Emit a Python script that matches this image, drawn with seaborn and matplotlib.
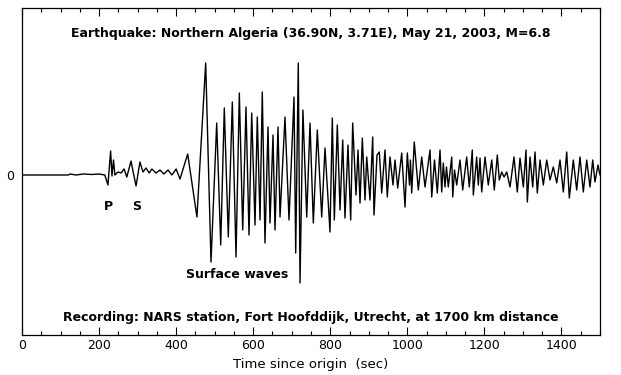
import matplotlib
matplotlib.use("Agg")
import matplotlib.pyplot as plt
import numpy as np
import pandas as pd
import seaborn as sns

# Seismogram: times (sec) and trace amplitude (arbitrary units, 0 = rest)
noise_t = [0, 120, 125, 140, 160, 180, 200, 215]
noise_amp = [0, 0, 1, 0, 1, 0.5, 1, 0]

body_t = [223, 230, 233.5, 237.5, 241, 249, 257, 265, 272, 283, 288, 296, 306, 314, 322,
          330, 337, 348, 358, 368, 379, 389, 400, 410, 430, 454]
body_amp = [-10, 24, -1, 15, 0, 3, 2, 6, -2, 14, 4, -11, 13, 3, 7,
            2, 6, 2, 5, 1, 5, 0, 6, -4, 21, -42]

surface_t = [476.7, 490.5, 505.3, 515.7, 525, 535.4, 545.8, 555.4, 564, 572.8, 581.3, 589.1,
             596.1, 604.7, 610.6, 617.7, 623.6, 630.6, 638.4, 643.6, 651.4, 656.6, 664.4,
             669.6, 682.5, 692.9, 705.9, 710.3, 717, 721.5, 729, 738.9, 747.4, 756, 766.4,
             777.8, 786.3, 799.3, 805.3, 810.5, 818.3, 825.3, 832.3, 838.2, 846, 853, 858.2,
             866.8, 872, 877.2, 883.2, 890.2, 894.6, 903.1, 910.1, 913.5, 921.3, 927.3, 933.5,
             942, 948, 955, 962.8, 968, 975, 985.4, 994, 1000, 1005.6, 1008, 1011.3, 1018,
             1028.5, 1037.3, 1045.9, 1058.9, 1063.3, 1070.5, 1077.8, 1084.8]
surface_amp = [112, -87, 52, -70, 67, -62, 73, -82, 82, -55, 68, -60,
               62, -50, 58, -45, 83, -68, 48, -48, 40, -55, 48,
               -42, 58, -45, 78, -78, 112, -108, 65, -42, 52, -48, 45,
               -42, 27, -57, 57, -45, 50, -35, 35, -43, 30, -45, 52,
               -20, 25, -28, 37, -25, 18, -25, 38, -40, 20, 23, -18,
               25, -22, 18, -10, 15, -13, 22, -32, 22, -10, 15, -18, 33,
               -15, 18, -12, 25, -22, 15, -18, 25]

coda_t = [1089.2, 1093.4, 1097.8, 1101.6, 1106.3, 1115.2, 1117.8, 1122.4, 1128.1, 1136.7,
          1143.7, 1154, 1160.8, 1168.6, 1171.2, 1180, 1184.2, 1188.6, 1193, 1201.6, 1210.1,
          1219, 1225.7, 1233.5, 1238.7, 1245, 1251, 1257.9, 1266.5, 1276.8, 1285.4, 1292.4,
          1301, 1308, 1311.4, 1318.4, 1325.4, 1331.3, 1337.3, 1344.3, 1352.9, 1361.7, 1370.3,
          1378.8, 1387.7, 1396.2, 1404.8, 1413.6, 1420.4, 1430.7, 1439.5, 1448.1, 1456.7,
          1465.5, 1474.1, 1481.1, 1487, 1494.8, 1500]
coda_amp = [-17, 12, -12, 8, -12, 18, -22, 5, -10, 15,
            -15, 18, -12, 25, -20, 18, -10, 17, -17, 18, -10,
            15, -15, 20, -5, 3, -2, 3, -12, 18, -17, 17,
            -12, 25, -27, 18, -12, 23, -18, 15, -10, 15, -5,
            8, -8, 15, -17, 23, -23, 15, -15, 18, -17,
            15, -12, 15, -7, 10, 0]

x_ticks = [0, 200, 400, 600, 800, 1000, 1200, 1400]

df = pd.DataFrame({
    "t": noise_t + body_t + surface_t + coda_t,
    "amp": noise_amp + body_amp + surface_amp + coda_amp,
})

sns.set_style("white")
plt.rcParams["font.family"] = ["DejaVu Sans"]
plt.rcParams["text.color"] = "black"
plt.rcParams["axes.labelcolor"] = "black"
plt.rcParams["xtick.color"] = "black"
plt.rcParams["ytick.color"] = "black"

fig = plt.figure(figsize=(6.21, 3.75), dpi=100)
ax = fig.add_axes([22 / 621, 40 / 375, 578 / 621, 327 / 375])

sns.lineplot(data=df, x="t", y="amp", sort=False, estimator=None, color="black",
             linewidth=1.0, ax=ax)

ax.set_xlim(0, 1500)
ax.set_ylim(-160, 167)
ax.set_xticks(x_ticks)
ax.set_xticks(np.arange(0, 1501, 50), minor=True)
ax.set_xticklabels([str(v) for v in x_ticks], fontsize=9)
ax.set_yticks([0])
ax.set_yticklabels(["0"], fontsize=9)
ax.tick_params(axis="x", which="major", direction="in", length=6, width=0.8,
               top=True, bottom=True, pad=3)
ax.tick_params(axis="x", which="minor", direction="in", length=3, width=0.8,
               top=True, bottom=True)
ax.tick_params(axis="y", length=0, pad=6)
for s in ax.spines.values():
    s.set_color("black")
    s.set_linewidth(0.9)

ax.set_xlabel("Time since origin  (sec)", fontsize=9.5, labelpad=4)
ax.set_ylabel("")

ax.text(0.5, 0.923, "Earthquake: Northern Algeria (36.90N, 3.71E), May 21, 2003, M=6.8",
        transform=ax.transAxes, ha="center", va="center", fontsize=9, fontweight="bold")
ax.text(0.5, 0.055, "Recording: NARS station, Fort Hoofddijk, Utrecht, at 1700 km distance",
        transform=ax.transAxes, ha="center", va="center", fontsize=9, fontweight="bold")
ax.text(225, -32, "P", ha="center", va="center", fontsize=9, fontweight="bold")
ax.text(298, -32, "S", ha="center", va="center", fontsize=9, fontweight="bold")
ax.text(558, -99, "Surface waves", ha="center", va="center", fontsize=9, fontweight="bold")

fig.savefig("out.png", dpi=100)
